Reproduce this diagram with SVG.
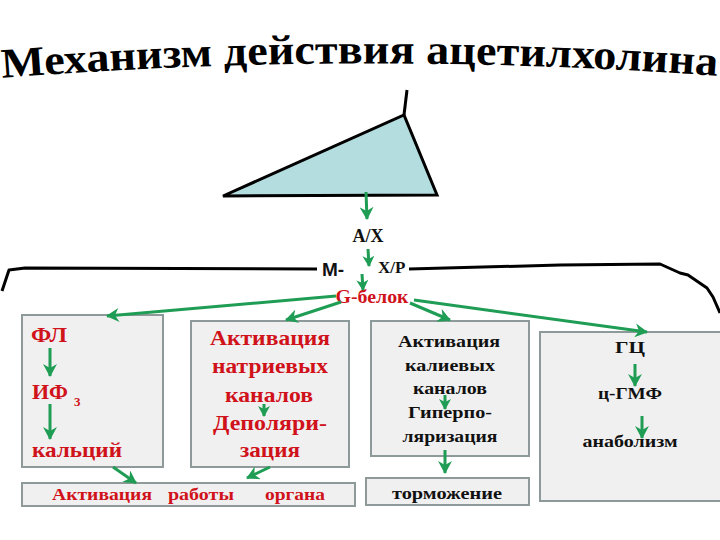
<svg xmlns="http://www.w3.org/2000/svg" width="720" height="540" viewBox="0 0 720 540">
<style>
.box{fill:#f0f0f0;stroke:#8e9a99;stroke-width:2}
.mem{fill:none;stroke:#000;stroke-width:3;stroke-linejoin:round}
.ar{fill:none;stroke:#1f9d55;stroke-width:3}
</style>
<defs>
<marker id="ah" markerUnits="userSpaceOnUse" markerWidth="14" markerHeight="14" refX="12" refY="7" orient="auto">
<path d="M0,0 L13,7 L0,14 L4,7 z" fill="#1f9d55" stroke="none"/>
</marker>
<marker id="ahs" markerUnits="userSpaceOnUse" markerWidth="12" markerHeight="12" refX="10" refY="6" orient="auto">
<path d="M0,0 L11,6 L0,12 L3,6 z" fill="#1f9d55" stroke="none"/>
</marker>
<path id="tp" d="M0,78 Q360,50 720,76"/>
</defs>
<rect width="720" height="540" fill="#fff"/>

<g id="title">
<text style="font-family:'Liberation Serif',serif;font-weight:bold;font-size:42px" fill="#000"><textPath href="#tp" startOffset="2" textLength="716" lengthAdjust="spacingAndGlyphs">Механизм действия ацетилхолина</textPath></text>
</g>

<g id="receptor">
<polygon points="223,196 404,115 437,195" fill="#b4dde0" stroke="#000" stroke-width="3"/>
<line x1="404" y1="115" x2="407" y2="90" stroke="#000" stroke-width="3"/>
</g>

<g id="membrane">
<polyline class="mem" points="2,291 9,270 25,268 317,269"/>
<polyline class="mem" points="409,269 560,265 660,264 680,273 688,275 707,288 713,297 720,313"/>
</g>

<g id="labels">
<text x="368" y="242" style="font-family:'Liberation Serif',serif;font-weight:bold;font-size:18px" text-anchor="middle" fill="#111">A/X</text>
<text x="322" y="276" style="font-family:'Liberation Sans',sans-serif;font-weight:bold;font-size:19px" fill="#111">M-</text>
<text x="378" y="273" style="font-family:'Liberation Serif',serif;font-weight:bold;font-size:17px" fill="#111">X/P</text>
<text x="372" y="303" style="font-family:'Liberation Serif',serif;font-weight:bold;font-size:18px" text-anchor="middle" fill="#d0121b" textLength="73" lengthAdjust="spacingAndGlyphs">G-белок</text>
</g>

<g id="box-fl">
<rect class="box" x="22" y="315" width="141" height="152"/>
<text x="31" y="342" style="font-family:'Liberation Serif',serif;font-weight:bold;font-size:22px" fill="#d0121b" textLength="36" lengthAdjust="spacingAndGlyphs">ФЛ</text>
<text x="32" y="399" style="font-family:'Liberation Serif',serif;font-weight:bold;font-size:22px" fill="#d0121b" textLength="36" lengthAdjust="spacingAndGlyphs">ИФ</text>
<text x="74" y="406" style="font-family:'Liberation Serif',serif;font-weight:bold;font-size:13px" fill="#d0121b">3</text>
<text x="32" y="457" style="font-family:'Liberation Serif',serif;font-weight:bold;font-size:22px" fill="#d0121b" textLength="90" lengthAdjust="spacingAndGlyphs">кальций</text>
</g>

<g id="box-na">
<rect class="box" x="191" y="321" width="158" height="146"/>
<text x="270" y="345" style="font-family:'Liberation Serif',serif;font-weight:bold;font-size:22px" fill="#d0121b" text-anchor="middle" textLength="120" lengthAdjust="spacingAndGlyphs">Активация</text>
<text x="270" y="373" style="font-family:'Liberation Serif',serif;font-weight:bold;font-size:22px" fill="#d0121b" text-anchor="middle" textLength="116" lengthAdjust="spacingAndGlyphs">натриевых</text>
<text x="269" y="402" style="font-family:'Liberation Serif',serif;font-weight:bold;font-size:22px" fill="#d0121b" text-anchor="middle" textLength="88" lengthAdjust="spacingAndGlyphs">каналов</text>
<text x="270" y="430" style="font-family:'Liberation Serif',serif;font-weight:bold;font-size:22px" fill="#d0121b" text-anchor="middle" textLength="114" lengthAdjust="spacingAndGlyphs">Деполяри-</text>
<text x="270" y="457" style="font-family:'Liberation Serif',serif;font-weight:bold;font-size:22px" fill="#d0121b" text-anchor="middle" textLength="60" lengthAdjust="spacingAndGlyphs">зация</text>
</g>

<g id="box-organ">
<rect class="box" x="22" y="483" width="333" height="23"/>
<text x="52" y="500" style="font-family:'Liberation Serif',serif;font-weight:bold;font-size:17px" fill="#d0121b" textLength="100" lengthAdjust="spacingAndGlyphs">Активация</text>
<text x="168" y="500" style="font-family:'Liberation Serif',serif;font-weight:bold;font-size:17px" fill="#d0121b" textLength="66" lengthAdjust="spacingAndGlyphs">работы</text>
<text x="265" y="500" style="font-family:'Liberation Serif',serif;font-weight:bold;font-size:17px" fill="#d0121b" textLength="60" lengthAdjust="spacingAndGlyphs">органа</text>
</g>

<g id="box-k">
<rect class="box" x="371" y="321" width="158" height="135"/>
<text x="449" y="347" style="font-family:'Liberation Serif',serif;font-weight:bold;font-size:17px" fill="#111" text-anchor="middle" textLength="102" lengthAdjust="spacingAndGlyphs">Активация</text>
<text x="450" y="371" style="font-family:'Liberation Serif',serif;font-weight:bold;font-size:17px" fill="#111" text-anchor="middle" textLength="90" lengthAdjust="spacingAndGlyphs">калиевых</text>
<text x="450" y="394" style="font-family:'Liberation Serif',serif;font-weight:bold;font-size:17px" fill="#111" text-anchor="middle" textLength="74" lengthAdjust="spacingAndGlyphs">каналов</text>
<text x="450" y="418" style="font-family:'Liberation Serif',serif;font-weight:bold;font-size:17px" fill="#111" text-anchor="middle" textLength="84" lengthAdjust="spacingAndGlyphs">Гиперпо-</text>
<text x="450" y="442" style="font-family:'Liberation Serif',serif;font-weight:bold;font-size:17px" fill="#111" text-anchor="middle" textLength="95" lengthAdjust="spacingAndGlyphs">ляризация</text>
</g>

<g id="box-torm">
<rect class="box" x="366" y="478" width="163" height="27"/>
<text x="447" y="499" style="font-family:'Liberation Serif',serif;font-weight:bold;font-size:17px" fill="#111" text-anchor="middle" textLength="110" lengthAdjust="spacingAndGlyphs">торможение</text>
</g>

<g id="box-gc">
<rect class="box" x="540" y="332" width="182" height="169"/>
<text x="630" y="353" style="font-family:'Liberation Serif',serif;font-weight:bold;font-size:17px" fill="#111" text-anchor="middle" textLength="30" lengthAdjust="spacingAndGlyphs">ГЦ</text>
<text x="630" y="399" style="font-family:'Liberation Serif',serif;font-weight:bold;font-size:17px" fill="#111" text-anchor="middle" textLength="64" lengthAdjust="spacingAndGlyphs">ц-ГМФ</text>
<text x="630" y="447" style="font-family:'Liberation Serif',serif;font-weight:bold;font-size:17px" fill="#111" text-anchor="middle" textLength="95" lengthAdjust="spacingAndGlyphs">анаболизм</text>
</g>

<g id="connectors">
<line class="ar" x1="366" y1="192" x2="367" y2="219" marker-end="url(#ah)"/>
<line class="ar" x1="368" y1="249" x2="369" y2="266" marker-end="url(#ahs)"/>
<line class="ar" x1="362" y1="274" x2="363" y2="290" marker-end="url(#ahs)"/>
<line class="ar" x1="336" y1="296" x2="107" y2="316" marker-end="url(#ah)"/>
<line class="ar" x1="341" y1="302" x2="286" y2="320" marker-end="url(#ah)"/>
<line class="ar" x1="410" y1="303" x2="450" y2="320" marker-end="url(#ah)"/>
<line class="ar" x1="414" y1="300" x2="647" y2="332" marker-end="url(#ah)"/>
<line class="ar" x1="50" y1="348" x2="50" y2="376" marker-end="url(#ah)"/>
<line class="ar" x1="50" y1="404" x2="50" y2="439" marker-end="url(#ah)"/>
<line class="ar" x1="264" y1="404" x2="264" y2="416" marker-end="url(#ahs)"/>
<line class="ar" x1="113" y1="467" x2="136" y2="483" marker-end="url(#ah)"/>
<line class="ar" x1="270" y1="467" x2="247" y2="478" marker-end="url(#ah)"/>
<line class="ar" x1="445" y1="395" x2="445" y2="409" marker-end="url(#ahs)"/>
<line class="ar" x1="445" y1="450" x2="445" y2="473" marker-end="url(#ah)"/>
<line class="ar" x1="635" y1="364" x2="635" y2="386" marker-end="url(#ah)"/>
<line class="ar" x1="642" y1="416" x2="642" y2="438" marker-end="url(#ah)"/>
</g>
</svg>
